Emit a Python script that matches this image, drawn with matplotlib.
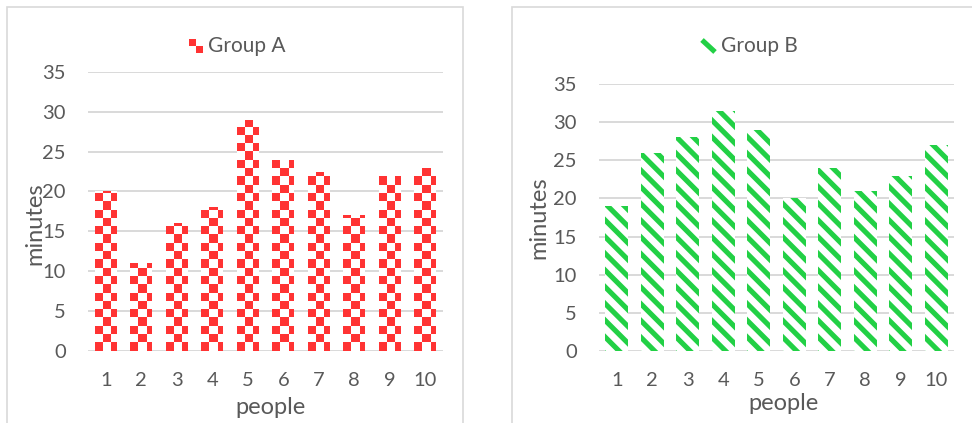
import numpy as np
import matplotlib
matplotlib.use("Agg")
import matplotlib.pyplot as plt
from matplotlib.patches import Rectangle
from matplotlib.collections import PatchCollection, LineCollection
from matplotlib.lines import Line2D

people = [1, 2, 3, 4, 5, 6, 7, 8, 9, 10]
group_a = [20, 11, 16, 18, 29, 24, 22.5, 17, 22, 23]
group_b = [19, 26, 28, 31.5, 29, 20, 24, 21, 23, 27]
y_ticks = [0, 5, 10, 15, 20, 25, 30, 35]

W, H = 972, 423
RED = "#FF3333"
GREEN = "#22D045"
TXT = "#595959"
GRID = "#D9D9D9"

plt.rcParams['font.family'] = ['Lato', 'DejaVu Sans']

fig = plt.figure(figsize=(W / 100, H / 100), dpi=100)

def fx(px):
    return px / W

def fy(py):
    return 1 - py / H

# panel borders
for x0, x1 in [(7, 463), (512, 990)]:
    fig.patches.append(Rectangle((fx(x0), fy(440)), fx(x1) - fx(x0), fy(7) - fy(440),
                                 transform=fig.transFigure, fill=False,
                                 edgecolor=GRID, lw=1.2))

def setup(ax):
    ax.set_ylim(0, 35)
    ax.set_xlim(-0.5, 9.5)
    ax.set_yticks(y_ticks)
    ax.set_xticks(range(len(people)))
    ax.set_xticklabels([str(p) for p in people])
    for s in ax.spines.values():
        s.set_visible(False)
    ax.tick_params(length=0, labelsize=14.5, colors=TXT)
    ax.tick_params(axis='y', pad=16)
    ax.tick_params(axis='x', pad=15)
    ax.yaxis.grid(True, color=GRID, lw=1.4)
    ax.set_axisbelow(True)
    ax.patch.set_alpha(0)

x = np.arange(len(people))

# ---- left: Group A (checkerboard)
axA = fig.add_axes([fx(88), fy(350.7), fx(443) - fx(88), fy(72) - fy(350.7)])
setup(axA)
barsA = axA.bar(x, group_a, width=0.63, facecolor='white', lw=0, zorder=2)
cell = 8.3  # px
to_px = axA.transData
inv = axA.transData.inverted()
for rect in barsA:
    (px0, py0) = to_px.transform((rect.get_x(), 0))
    (px1, py1) = to_px.transform((rect.get_x() + rect.get_width(), rect.get_height()))
    nx = int(np.ceil((px1 - px0) / cell))
    ny = int(np.ceil((py1 - py0) / cell))
    cells = []
    for i in range(ny):
        for j in range(nx):
            if (i + j) % 2 == 0:
                a = inv.transform((px0 + j * cell, py0 + i * cell))
                b = inv.transform((px0 + (j + 1) * cell, py0 + (i + 1) * cell))
                cells.append(Rectangle((a[0], a[1]), b[0] - a[0], b[1] - a[1]))
    pc = PatchCollection(cells, facecolor=RED, edgecolor='none', lw=0, zorder=3,
                         antialiased=False)
    axA.add_collection(pc)
    pc.set_clip_path(rect)

# ---- right: Group B (diagonal stripes)
axB = fig.add_axes([fx(599), fy(351), fx(954) - fx(599), fy(84) - fy(351)])
setup(axB)
barsB = axB.bar(x, group_b, width=0.64, facecolor='white', lw=0, zorder=2)
period = 16.7  # px
to_px = axB.transData
inv = axB.transData.inverted()
for rect in barsB:
    (px0, py0) = to_px.transform((rect.get_x(), 0))
    (px1, py1) = to_px.transform((rect.get_x() + rect.get_width(), rect.get_height()))
    segs = []
    c = px0 + py0 - 3
    while c < px1 + py1 + period:
        # line x + y = c (y up) -> "\" direction on screen
        p = inv.transform([(c - py1 - 5, py1 + 5), (c - py0 + 5, py0 - 5)])
        segs.append(p)
        c += period
    lc = LineCollection(segs, colors=GREEN, linewidths=3.7, zorder=3, capstyle='butt')
    axB.add_collection(lc)
    lc.set_clip_path(rect)

axA.set_xlim(-0.5, 9.5)
axA.set_ylim(0, 35)
axB.set_xlim(-0.5, 9.5)
axB.set_ylim(0, 35)

# axis titles
fig.text(fx(35), fy(224), "minutes", rotation=90, ha='center', va='center',
         fontsize=17, color=TXT)
fig.text(fx(539), fy(218), "minutes", rotation=90, ha='center', va='center',
         fontsize=17, color=TXT)
fig.text(fx(270), fy(407), "people", ha='center', va='center', fontsize=17, color=TXT)
fig.text(fx(783), fy(403), "people", ha='center', va='center', fontsize=17, color=TXT)

# legends
s = 7
for (cx, cy, col) in [(189, 39, 0), (196, 39, 1), (189, 46, 1), (196, 46, 0)]:
    fig.patches.append(Rectangle((fx(cx), fy(cy + s)), fx(s), fy(0) - fy(s),
                                 transform=fig.transFigure, lw=0,
                                 facecolor=RED if col == 0 else 'white'))
fig.text(fx(208), fy(46), "Group A", ha='left', va='center', fontsize=15, color=TXT)

fig.lines.append(Line2D([fx(702), fx(715)], [fy(40), fy(52)], transform=fig.transFigure,
                        color=GREEN, lw=3.7, solid_capstyle='butt'))
fig.text(fx(721), fy(46), "Group B", ha='left', va='center', fontsize=15, color=TXT)

fig.savefig("out.png", dpi=100)
